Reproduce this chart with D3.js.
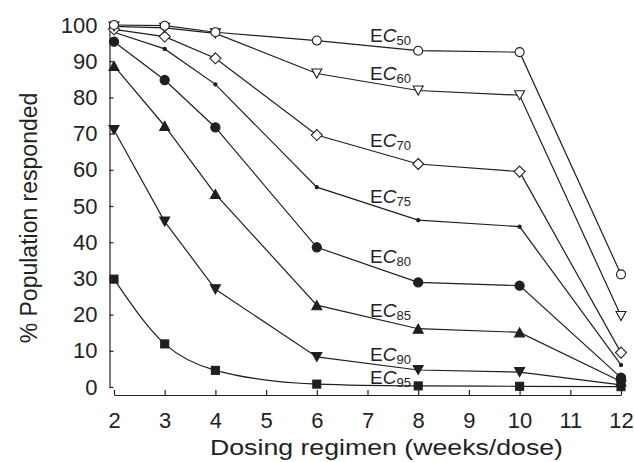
<!DOCTYPE html>
<html>
<head>
<meta charset="utf-8">
<script src="https://cdn.jsdelivr.net/npm/d3@7"></script>
<style>
body { margin: 0; background: #fff; }
svg { display: block; font-family: 'Liberation Sans', Arial, sans-serif; }
.axis text { font-size: 22px; fill: #222; }
.axis path, .axis line { stroke: #222; stroke-width: 1.2; }
</style>
</head>
<body>
<svg class="chart" width="634" height="462"></svg>
<script>
var width = 634,
	height = 462;

// dosing interval (weeks/dose)
var weeks = [2, 3, 4, 6, 8, 10, 12];

var seriesNames = ['50', '60', '70', '75', '80', '85', '90', '95'];

// % population responded, one array per EC level
var ec50 = [100, 99.8, 98.0, 95.7, 92.9, 92.5, 31.1];
var ec60 = [99.6, 99.2, 97.7, 86.6, 81.9, 80.6, 19.6];
var ec70 = [98.8, 96.8, 90.8, 69.6, 61.6, 59.5, 9.5];
var ec75 = [98.0, 93.4, 83.6, 55.2, 46.1, 44.3, 6.1];
var ec80 = [95.4, 84.8, 71.7, 38.6, 28.9, 28.0, 2.6];
var ec85 = [88.7, 72.1, 53.3, 22.6, 16.1, 15.1, 1.5];
var ec90 = [71.0, 45.7, 27.0, 8.3, 4.7, 4.1, 0.6];
var ec95 = [29.8, 11.9, 4.6, 0.8, 0.3, 0.2, 0.1];

var allSeries = [ec50, ec60, ec70, ec75, ec80, ec85, ec90, ec95];

// where each EC label sits (data units)
var labelWeek = 7.05;
var labelPct = [95.4, 84.8, 66.4, 50.8, 34.3, 19.3, 7.2, 0.8];

var xTicks = [2, 3, 4, 5, 6, 7, 8, 9, 10, 11, 12];
var yTicks = [0, 10, 20, 30, 40, 50, 60, 70, 80, 90, 100];

var ink = '#1f1f1f';

//Scales
var xScale = d3.scaleLinear()
	.domain([2, 12])
	.range([114, 621]);

var yScale = d3.scaleLinear()
	.domain([0, 100])
	.range([387, 25]);

var chart = d3.select('.chart');

//Axes
chart.append('g')
	.attr('class', 'axis')
	.attr('transform', 'translate(109.5,0)')
	.call(d3.axisLeft(yScale).tickValues(yTicks).tickSizeInner(-4).tickSizeOuter(0).tickPadding(12));

chart.append('g')
	.attr('class', 'axis')
	.attr('transform', 'translate(0,395)')
	.call(d3.axisBottom(xScale).tickValues(xTicks).tickSizeInner(-5).tickSizeOuter(0).tickPadding(17));

//Axis titles
chart.append('text')
	.attr('text-anchor', 'middle')
	.attr('x', 386.5)
	.attr('y', 455)
	.attr('font-size', 22)
	.attr('fill', '#222')
	.attr('textLength', 353)
	.attr('lengthAdjust', 'spacingAndGlyphs')
	.text('Dosing regimen (weeks/dose)');

chart.append('text')
	.attr('text-anchor', 'middle')
	.attr('transform', 'translate(37,218) rotate(-90)')
	.attr('font-size', 23)
	.attr('fill', '#222')
	.text('% Population responded');

//Lines
var line = d3.line()
	.x((d, i) => xScale(weeks[i]))
	.y(d => yScale(d));

var curvy = d3.line()
	.x((d, i) => xScale(weeks[i]))
	.y(d => yScale(d))
	.curve(d3.curveMonotoneX);

allSeries.forEach(function(s, k) {
	chart.append('path')
		.attr('d', k === 7 ? curvy(s) : line(s))
		.attr('fill', 'none')
		.attr('stroke', ink)
		.attr('stroke-width', 1.2);
});

//Markers
var tri = 'M-5,-4.5L5,-4.5L0,4.5Z';
var triUp = 'M-5,4.5L5,4.5L0,-4.5Z';
var diamond = 'M0,-5.5L5.5,0L0,5.5L-5.5,0Z';

function marker(k, g) {
	if (k === 0) g.append('circle').attr('r', 4.5).attr('fill', '#fff');
	if (k === 1) g.append('path').attr('d', tri).attr('fill', '#fff');
	if (k === 2) g.append('path').attr('d', diamond).attr('fill', '#fff');
	if (k === 3) g.append('circle').attr('r', 1.6).attr('fill', ink);
	if (k === 4) g.append('circle').attr('r', 4.6).attr('fill', ink);
	if (k === 5) g.append('path').attr('d', triUp).attr('fill', ink);
	if (k === 6) g.append('path').attr('d', tri).attr('fill', ink);
	if (k === 7) g.append('rect').attr('x', -4).attr('y', -4).attr('width', 8).attr('height', 8).attr('fill', ink);
}

// draw lowest series first so open markers sit on top
for (var k = allSeries.length - 1; k >= 0; k--) {
	allSeries[k].forEach(function(v, i) {
		var g = chart.append('g')
			.attr('transform', 'translate(' + xScale(weeks[i]) + ',' + yScale(v) + ')')
			.attr('stroke', ink)
			.attr('stroke-width', 1.1);
		marker(k, g);
	});
}

//EC labels
seriesNames.forEach(function(n, k) {
	var t = chart.append('text')
		.attr('x', xScale(labelWeek))
		.attr('y', yScale(labelPct[k]))
		.attr('font-size', 19)
		.attr('fill', '#222');
	t.append('tspan').text('E');
	t.append('tspan').attr('font-style', 'italic').text('C');
	t.append('tspan').attr('font-size', 13).attr('dy', 3).text(n);
});
</script>
</body>
</html>
